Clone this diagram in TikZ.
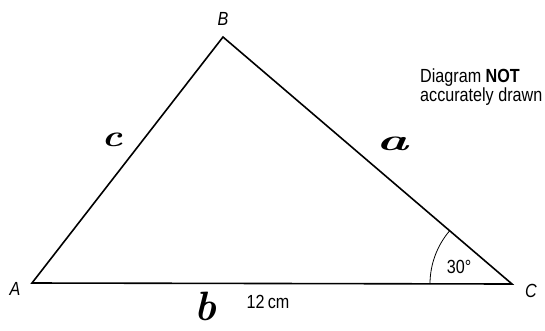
\documentclass[tikz,border=0pt]{standalone}
\usetikzlibrary{calc}
\usepackage{fontspec}
\setmainfont{Liberation Sans}
\newfontfamily\narrowfont[FakeStretch=0.85]{Liberation Sans}
\newfontfamily\handfont{Latin Modern Roman}
\begin{document}
\begin{tikzpicture}[x=1pt,y=-1pt,
  side/.style={line width=1.6pt, line join=miter},
  vlabel/.style={font=\narrowfont\itshape\fontsize{19}{19}\selectfont, inner sep=0pt},
  numlabel/.style={font=\narrowfont\fontsize{19}{19}\selectfont, inner sep=0pt},
  hand/.style={font=\handfont\bfseries\itshape\fontsize{30}{30}\selectfont, inner sep=0pt},
  note/.style={font=\narrowfont\fontsize{19}{19}\selectfont, inner sep=0pt, anchor=base west}]
\useasboundingbox (0,0) rectangle (545,330);
\coordinate (A) at (32,283);
\coordinate (B) at (223,37);
\coordinate (C) at (512,284);
\draw[side] (A) -- (B) -- (C) -- cycle;
\draw[line width=0.8pt] ($(C)+(180:82)$) arc[start angle=180, end angle=220.5, radius=82];
\node[vlabel] (lA) at (15,289) {A};
\node[vlabel] (lB) at (223,19) {B};
\node[vlabel] (lC) at (531,291) {C};
\node[numlabel] (ang) at (459,267) {30°};
\node[numlabel] (len) at (268,302) {12\,cm};
\node[note] (nt1) at (420,82) {Diagram \textbf{NOT}};
\node[note] (nt2) at (420,101) {accurately drawn};
\node[hand] (hc) at (112,140) {\scalebox{1.3}[1]{c}};
\node[hand] (ha) at (392,144) {\scalebox{1.8}[1]{a}};
\node[hand, font=\handfont\bfseries\itshape\fontsize{41}{41}\selectfont] (hb) at (205,306) {b};
\end{tikzpicture}
\end{document}
